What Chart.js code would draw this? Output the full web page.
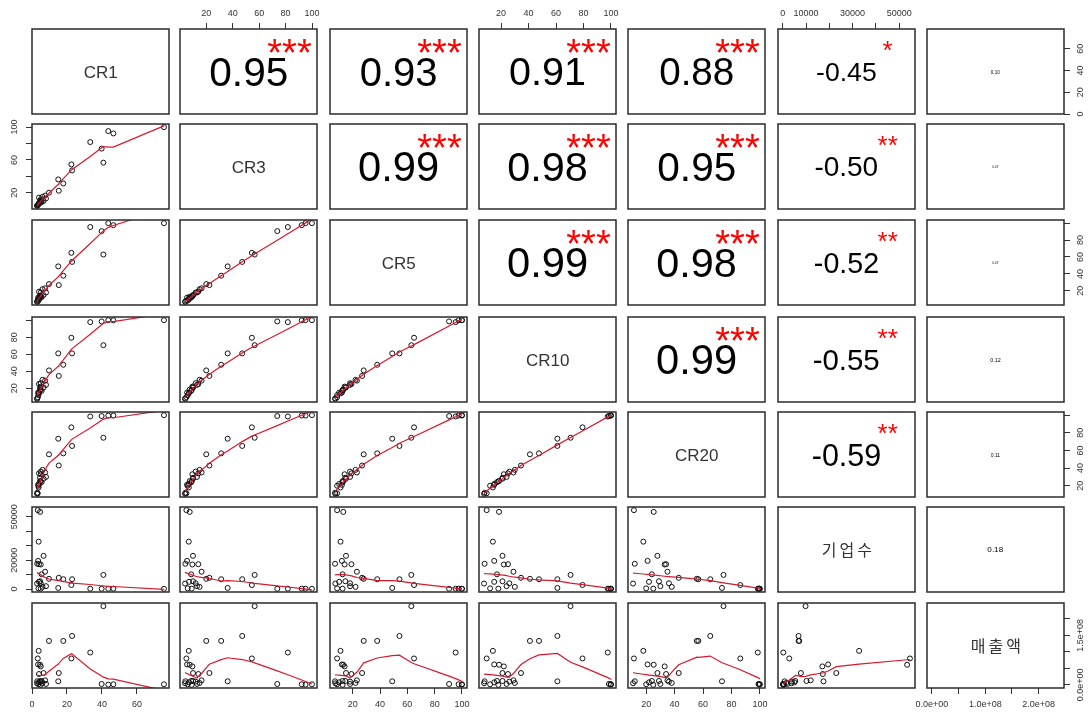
<!DOCTYPE html>
<html>
<head>
<meta charset="utf-8">
<script src="https://cdn.jsdelivr.net/npm/chart.js@4.4.1/dist/chart.umd.min.js"></script>
<style>
  html, body { margin: 0; padding: 0; background: #fff; }
  #grid { position: relative; width: 1088px; height: 713px; overflow: hidden; }
  #grid canvas { position: absolute; }
</style>
</head>
<body>
<div id="grid"></div>
<script>
// variables, one value per industry (30 observations)
const varNames = ["CR1", "CR3", "CR5", "CR10", "CR20", "기업수", "매출액"];

const cr1 = [75.4, 43.6, 46.5, 40.8, 39.8, 33.3, 22.5, 22.9, 15.0, 17.9, 15.3, 9.7,
  3.3, 4.6, 3.8, 6.6, 3.5, 5.0, 3.0, 4.0, 5.5, 4.6, 4.0, 2.9, 5.0, 3.7, 5.0, 6.0, 7.5, 8.0];
const cr3 = [99.9, 95.1, 92.2, 56.6, 73.7, 81.7, 54.5, 47.2, 36.2, 31.3, 22.4, 20.0,
  5.0, 7.5, 6.8, 10.0, 5.5, 9.5, 4.2, 14.0, 8.6, 10.0, 7.0, 4.0, 12.0, 6.0, 9.0, 15.0, 16.5, 13.0];
const cr5 = [100, 100, 97.6, 62.9, 90.6, 95.4, 64.9, 54.2, 48.9, 37.9, 26.8, 28.0,
  8.5, 13.0, 11.0, 15.0, 12.0, 14.0, 7.0, 19.0, 12.5, 14.5, 10.0, 7.2, 18.0, 8.5, 12.5, 22.0, 23.0, 18.0];
const cr10 = [100, 100, 99.8, 70.6, 98.5, 97.7, 79.3, 61.0, 61.0, 47.6, 34.5, 41.0,
  9.5, 18.5, 14.0, 21.0, 15.0, 22.0, 8.0, 25.0, 17.0, 21.0, 15.0, 7.6, 26.0, 12.0, 18.0, 30.0, 29.0, 24.0];
const cr20 = [100, 99.5, 99.6, 74.4, 99.0, 98.5, 86.2, 65.1, 73.3, 56.7, 42.9, 55.6,
  11.4, 25.3, 18.0, 27.9, 21.0, 33.0, 12.0, 34.0, 24.0, 29.0, 22.0, 10.8, 36.0, 20.0, 25.0, 38.0, 35.0, 30.0];
const firms = [150, 250, 300, 9800, 200, 250, 2800, 6800, 800, 6800, 7800, 7100,
  54600, 53400, 32800, 23000, 19500, 17000, 17500, 17200, 10200, 5400, 5000, 3800, 4000, 500, 300, 1500, 12000, 2000];
const sales = [2e6, 1e6, 2e6, 238e6, 3e6, 98e6, 80e6, 148e6, 11e6, 133e6, 36e6, 133e6,
  80e6, 61e6, 103e6, 36e6, 62e6, 56e6, 11e6, 33e6, 12e6, 12e6, 8e6, 5e6, 10e6, 2e6, 0.3e6, 6e6, 14e6, 3e6];

// axis ticks and the labels R kept on each outer side ("" = tick without label)
const cr1Ticks = [0, 20, 40, 60];
const crTicks = [20, 40, 60, 80, 100];
const firmTicks = [0, 10000, 20000, 30000, 40000, 50000];
const salesTicks = [0, 5e7, 1e8, 1.5e8, 2e8];

const cr1HLabels = ["0", "20", "40", "60"];
const cr1VLabels = ["0", "20", "40", "60"];
const cr3HLabels = ["20", "40", "60", "80", "100"];
const cr3VLabels = ["20", "", "60", "", "100"];
const cr5HLabels = ["20", "40", "60", "80", "100"];
const cr5VLabels = ["20", "40", "60", "80", ""];
const cr10HLabels = ["20", "40", "60", "80", "100"];
const cr10VLabels = ["20", "40", "60", "80", ""];
const cr20HLabels = ["20", "40", "60", "80", "100"];
const cr20VLabels = ["20", "40", "60", "80", ""];
const firmHLabels = ["0", "10000", "", "30000", "", "50000"];
const firmVLabels = ["0", "", "20000", "", "", "50000"];
const salesHLabels = ["0.0e+00", "", "1.0e+08", "", "2.0e+08"];
const salesVLabels = ["0.0e+00", "", "", "1.5e+08", ""];

// correlations printed in the upper panels (row i against the columns right of it)
const corrRow1 = [0.95, 0.93, 0.91, 0.88, -0.45, 0.10];
const corrRow2 = [0.99, 0.98, 0.95, -0.50, 0.07];
const corrRow3 = [0.99, 0.98, -0.52, 0.07];
const corrRow4 = [0.99, -0.55, 0.12];
const corrRow5 = [-0.59, 0.11];
const corrRow6 = [0.18];
const starsRow1 = ["***", "***", "***", "***", "*", ""];
const starsRow2 = ["***", "***", "***", "**", ""];
const starsRow3 = ["***", "***", "**", ""];
const starsRow4 = ["***", "**", ""];
const starsRow5 = ["**", ""];
const starsRow6 = [""];

const allVars = [cr1, cr3, cr5, cr10, cr20, firms, sales];
const allTicks = [cr1Ticks, crTicks, crTicks, crTicks, crTicks, firmTicks, salesTicks];
const allHLabels = [cr1HLabels, cr3HLabels, cr5HLabels, cr10HLabels, cr20HLabels, firmHLabels, salesHLabels];
const allVLabels = [cr1VLabels, cr3VLabels, cr5VLabels, cr10VLabels, cr20VLabels, firmVLabels, salesVLabels];
const corrRows = [corrRow1, corrRow2, corrRow3, corrRow4, corrRow5, corrRow6];
const starRows = [starsRow1, starsRow2, starsRow3, starsRow4, starsRow5, starsRow6];

const colLeft = [32, 180, 330, 479, 628, 778, 927];
const rowTop = [29, 124, 220, 317, 412, 507, 603];
const PW = 137;
const PH = 85;
const M = 30;
const FONT = "'Liberation Sans', Arial, sans-serif";
const RED = "rgb(215, 25, 45)";

function axisRange(v) {
  const lo = Math.min(...v);
  const hi = Math.max(...v);
  const pad = (hi - lo) * 0.04;
  return [lo - pad, hi + pad];
}

// R's lowess (f = 2/3, iter = 3), as used by panel.smooth
function lowess(xs, ys, f = 2 / 3, iter = 3) {
  const n = xs.length;
  const order = xs.map((_, k) => k).sort((a, b) => xs[a] - xs[b]);
  const x = order.map((k) => xs[k]);
  const y = order.map((k) => ys[k]);
  const ns = Math.max(2, Math.min(n, Math.floor(f * n + 1e-7)));
  const rw = new Array(n).fill(1);
  const fit = new Array(n).fill(0);
  const spanX = x[n - 1] - x[0];
  for (let it = 0; it <= iter; it++) {
    let nleft = 0;
    let nright = ns - 1;
    for (let i = 0; i < n; i++) {
      while (nright < n - 1 && x[i] - x[nleft] > x[nright + 1] - x[i]) {
        nleft++;
        nright++;
      }
      const h = Math.max(x[i] - x[nleft], x[nright] - x[i]);
      const w = new Array(n).fill(0);
      let sw = 0;
      for (let k = 0; k < n; k++) {
        const r = Math.abs(x[k] - x[i]);
        if (r <= 0.999 * h || r === 0) {
          w[k] = (r <= 0.001 * h ? 1 : Math.pow(1 - Math.pow(r / h, 3), 3)) * rw[k];
          sw += w[k];
        }
      }
      if (sw <= 0) { fit[i] = y[i]; continue; }
      let mx = 0, my = 0;
      for (let k = 0; k < n; k++) { mx += w[k] * x[k]; my += w[k] * y[k]; }
      mx /= sw; my /= sw;
      let sxx = 0, sxy = 0;
      for (let k = 0; k < n; k++) {
        sxx += w[k] * (x[k] - mx) ** 2;
        sxy += w[k] * (x[k] - mx) * (y[k] - my);
      }
      fit[i] = h > 0 && Math.sqrt(sxx / sw) > 0.001 * spanX ? my + (sxy / sxx) * (x[i] - mx) : my;
    }
    if (it === iter) break;
    const res = y.map((v, k) => v - fit[k]);
    const sorted = res.map(Math.abs).sort((a, b) => a - b);
    const med = n % 2 ? sorted[(n - 1) / 2] : (sorted[n / 2 - 1] + sorted[n / 2]) / 2;
    const cmad = 6 * med;
    if (cmad <= 0) break;
    for (let k = 0; k < n; k++) {
      const u = Math.abs(res[k]) / cmad;
      rw[k] = u < 0.001 ? 1 : u > 0.999 ? 0 : (1 - u * u) ** 2;
    }
  }
  return x.map((v, k) => ({ x: v, y: fit[k] }));
}

function drawCentered(ctx, text, cx, cy) {
  const m = ctx.measureText(text);
  const w = m.actualBoundingBoxRight + m.actualBoundingBoxLeft;
  const x = cx - w / 2 + m.actualBoundingBoxLeft;
  const y = cy + (m.actualBoundingBoxAscent - m.actualBoundingBoxDescent) / 2;
  ctx.fillText(text, x, y);
}

function panelPlugin(i, j, hasLeft, hasRight) {
  return {
    id: "panel" + i + "_" + j,
    afterDraw(chart) {
      const { ctx, chartArea: ca } = chart;
      ctx.save();
      ctx.strokeStyle = "#2b2b2b";
      ctx.lineWidth = 1.5;
      ctx.strokeRect(ca.left, ca.top, ca.right - ca.left, ca.bottom - ca.top);
      ctx.textAlign = "left";
      ctx.textBaseline = "alphabetic";
      const cx = (ca.left + ca.right) / 2;
      const cy = (ca.top + ca.bottom) / 2;

      if (i === j) {
        const korean = i >= 5;
        ctx.fillStyle = "#333";
        ctx.font = korean ? "16px 'Noto Sans CJK KR'" : "17px " + FONT;
        if (korean) ctx.letterSpacing = "3px";
        drawCentered(ctx, varNames[i], cx, cy);
        ctx.letterSpacing = "0px";
      } else if (j > i) {
        const r = corrRows[i][j - i - 1];
        const stars = starRows[i][j - i - 1];
        const size = j === 6 ? 45 * Math.abs(r) : 14 + 28 * Math.abs(r);
        ctx.fillStyle = "#000";
        ctx.font = size.toFixed(1) + "px " + FONT;
        drawCentered(ctx, r.toFixed(2), cx, cy);
        if (stars) {
          ctx.fillStyle = "#ff0000";
          ctx.font = (r > 0 ? 38 : 26) + "px " + FONT;
          drawCentered(ctx, stars, ca.left + 0.8 * (ca.right - ca.left), ca.top + 0.2 * (ca.bottom - ca.top));
        }
      }

      if (hasLeft || hasRight) {
        const ys = chart.scales.y;
        ctx.fillStyle = "#333";
        ctx.font = "9px " + FONT;
        ctx.textAlign = "center";
        ctx.textBaseline = "middle";
        allTicks[i].forEach((t, k) => {
          const label = allVLabels[i][k];
          if (!label || t < ys.min || t > ys.max) return;
          const py = ys.getPixelForValue(t);
          const px = hasLeft ? ca.left - 17.5 : ca.right + 16.5;
          ctx.save();
          ctx.translate(px, py);
          ctx.rotate(-Math.PI / 2);
          ctx.fillText(label, 0, 0);
          ctx.restore();
        });
      }
      ctx.restore();
    },
  };
}

function axisOptions(v, range, shown, position, horizontal) {
  return {
    type: "linear",
    min: range[0],
    max: range[1],
    position,
    display: shown,
    border: { display: false },
    grid: { drawOnChartArea: false, drawTicks: true, tickLength: 6, color: "#333", lineWidth: 1 },
    ticks: {
      autoSkip: false,
      maxRotation: 0,
      minRotation: 0,
      padding: position === "top" ? 4 : 5.5,
      color: "#333",
      font: { family: FONT, size: 9 },
      callback: (value) => {
        if (!horizontal) return "";
        const k = allTicks[v].indexOf(value);
        return k >= 0 ? allHLabels[v][k] : "";
      },
    },
    afterBuildTicks: (scale) => {
      scale.ticks = allTicks[v].filter((t) => t >= scale.min && t <= scale.max).map((value) => ({ value }));
    },
    afterFit: (scale) => {
      if (!shown) {
        scale.width = 0;
        scale.height = 0;
      } else if (horizontal) {
        scale.height = M;
      } else {
        scale.width = M;
      }
    },
  };
}

const grid = document.getElementById("grid");

for (let i = 0; i < 7; i++) {
  for (let j = 0; j < 7; j++) {
    const canvas = document.createElement("canvas");
    canvas.width = PW + 2 * M;
    canvas.height = PH + 2 * M;
    canvas.style.left = colLeft[j] - M + "px";
    canvas.style.top = rowTop[i] - M + "px";
    grid.appendChild(canvas);

    const hasTop = i === 0 && j % 2 === 1;
    const hasBottom = i === 6 && j % 2 === 0;
    const hasLeft = j === 0 && i % 2 === 1;
    const hasRight = j === 6 && i % 2 === 0;

    const datasets = [];
    if (i > j) {
      const xs = allVars[j];
      const ys = allVars[i];
      datasets.push({
        data: lowess(xs, ys),
        showLine: true,
        borderColor: RED,
        borderWidth: 1.2,
        pointRadius: 0,
        tension: 0,
      });
      datasets.push({
        data: xs.map((x, k) => ({ x, y: ys[k] })),
        pointRadius: 2.5,
        pointBorderWidth: 1,
        pointBorderColor: "#111",
        pointBackgroundColor: "rgba(0,0,0,0)",
      });
    }

    new Chart(canvas, {
      type: "scatter",
      data: { datasets },
      options: {
        responsive: false,
        animation: false,
        devicePixelRatio: 1,
        events: [],
        layout: {
          padding: {
            left: hasLeft ? 0 : M,
            right: hasRight ? 0 : M,
            top: hasTop ? 0 : M,
            bottom: hasBottom ? 0 : M,
          },
        },
        plugins: { legend: { display: false }, tooltip: { enabled: false } },
        scales: {
          x: axisOptions(j, axisRange(allVars[j]), hasTop || hasBottom, hasTop ? "top" : "bottom", true),
          y: axisOptions(i, axisRange(allVars[i]), hasLeft || hasRight, hasLeft ? "left" : "right", false),
        },
      },
      plugins: [panelPlugin(i, j, hasLeft, hasRight)],
    });
  }
}
</script>
</body>
</html>
